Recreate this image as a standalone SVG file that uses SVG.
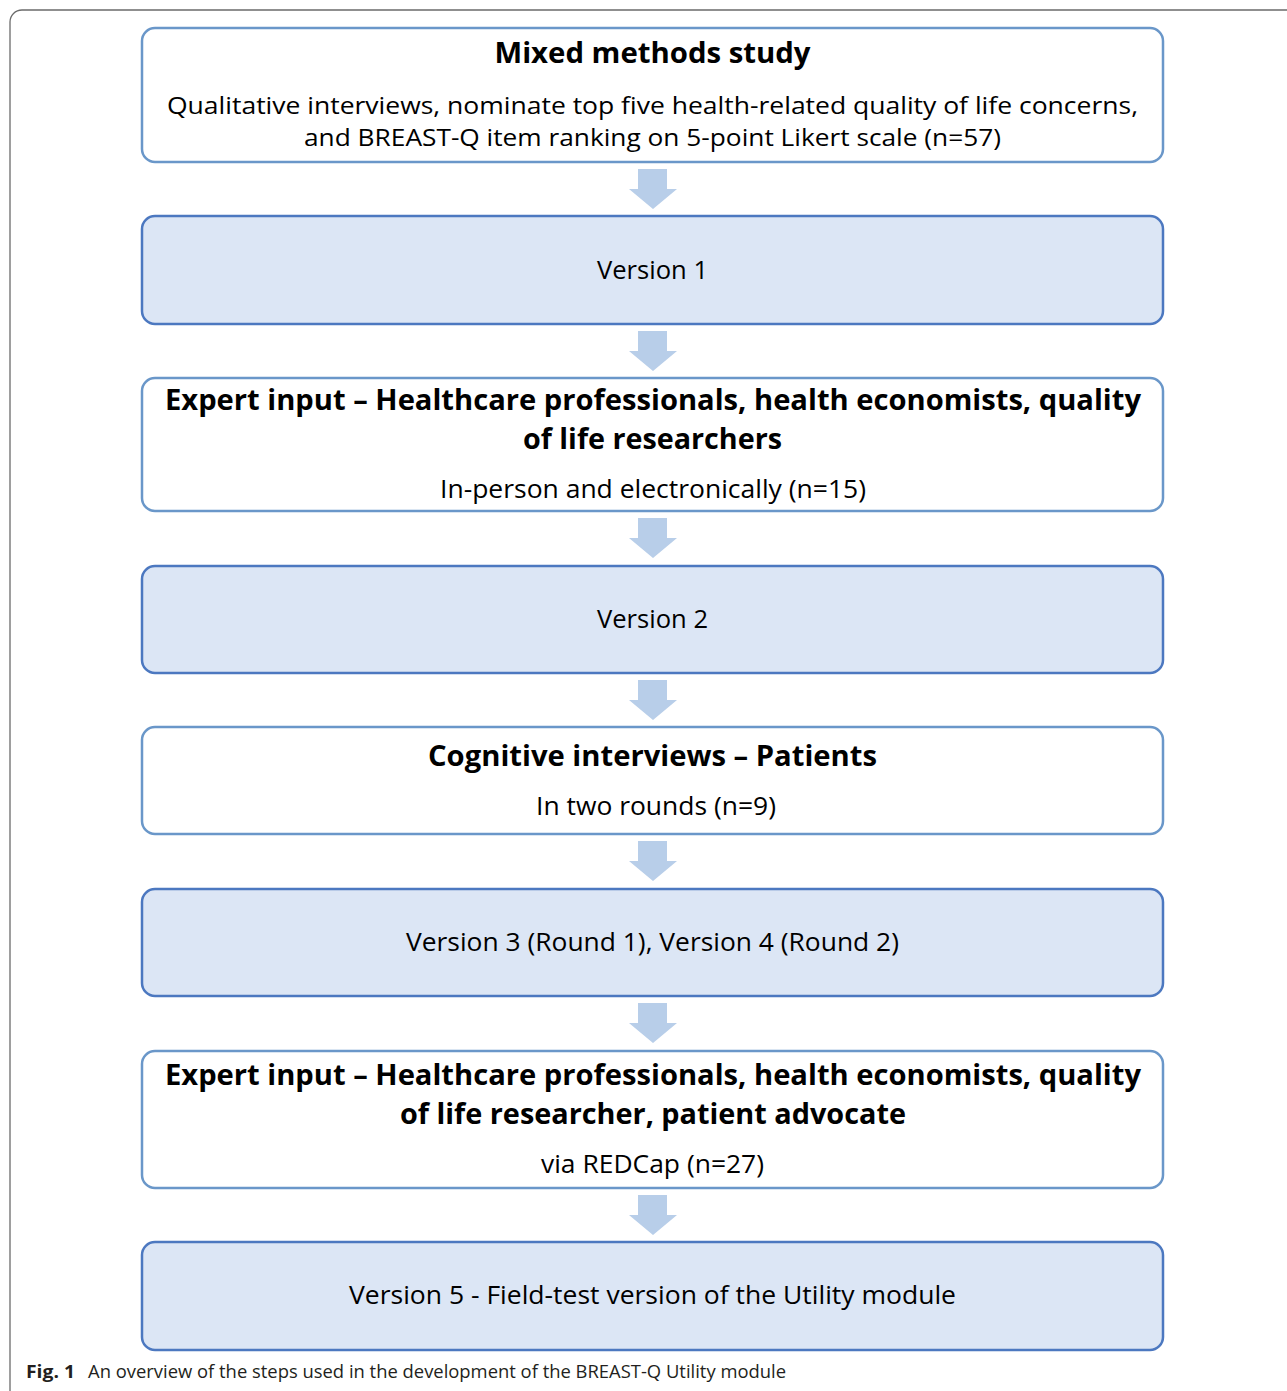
<svg xmlns="http://www.w3.org/2000/svg" width="1287" height="1391" viewBox="0 0 1287 1391">
  <defs>
    <style>
      .frame { fill: none; stroke: #6b6b6b; stroke-width: 1.3; }
      .plain { fill: #ffffff; stroke: #6a97c9; stroke-width: 2.5; }
      .shaded { fill: #dce6f5; stroke: #4c78c0; stroke-width: 2.5; }
      .arrow { fill: #b8cee9; }
      text { font-family: "Open Sans", "Noto Sans", "Liberation Sans", sans-serif; fill: #000000; text-anchor: middle; }
      .title { font-size: 28px; font-weight: bold; }
      .body { font-size: 26px; }
      .tight { font-size: 24px; }
      .cap { font-size: 18px; text-anchor: start; fill: #231f20; }
      .capb { font-weight: bold; }
    </style>
    <!-- block arrow pointing down, drawn at y=0 and placed with <use> -->
    <path id="down" class="arrow" d="M638,0 H667 V20 H677 L653,40 L629,20 H638 Z"/>
  </defs>
  <rect width="1287" height="1391" fill="#ffffff"/>
  <rect class="frame" x="10" y="10" width="1300" height="1400" rx="12"/>

  <g id="connectors">
    <use href="#down" y="169"/>
    <use href="#down" y="331"/>
    <use href="#down" y="518"/>
    <use href="#down" y="680"/>
    <use href="#down" y="841"/>
    <use href="#down" y="1003"/>
    <use href="#down" y="1195"/>
  </g>

  <g id="mixed-methods">
    <rect class="plain" x="142" y="28" width="1021" height="134" rx="13"/>
    <text class="title" x="652.5" y="63" textLength="316" lengthAdjust="spacingAndGlyphs">Mixed methods study</text>
    <text class="body tight" x="652.5" y="114" textLength="971" lengthAdjust="spacingAndGlyphs">Qualitative interviews, nominate top five health-related quality of life concerns,</text>
    <text class="body tight" x="652.5" y="146" textLength="697" lengthAdjust="spacingAndGlyphs">and BREAST-Q item ranking on 5-point Likert scale (n=57)</text>
  </g>

  <g id="version-1">
    <rect class="shaded" x="142" y="216" width="1021" height="108" rx="13"/>
    <text class="body" x="652.5" y="279" textLength="111" lengthAdjust="spacingAndGlyphs">Version 1</text>
  </g>

  <g id="expert-input-1">
    <rect class="plain" x="142" y="378" width="1021" height="133" rx="13"/>
    <text class="title" x="653" y="410" textLength="976" lengthAdjust="spacingAndGlyphs">Expert input – Healthcare professionals, health economists, quality</text>
    <text class="title" x="652.5" y="449" textLength="259" lengthAdjust="spacingAndGlyphs">of life researchers</text>
    <text class="body" x="653" y="498" textLength="426" lengthAdjust="spacingAndGlyphs">In-person and electronically (n=15)</text>
  </g>

  <g id="version-2">
    <rect class="shaded" x="142" y="566" width="1021" height="107" rx="13"/>
    <text class="body" x="652.5" y="628" textLength="111" lengthAdjust="spacingAndGlyphs">Version 2</text>
  </g>

  <g id="cognitive-interviews">
    <rect class="plain" x="142" y="727" width="1021" height="107" rx="13"/>
    <text class="title" x="652.5" y="766" textLength="449" lengthAdjust="spacingAndGlyphs">Cognitive interviews – Patients</text>
    <text class="body" x="656" y="815" textLength="240" lengthAdjust="spacingAndGlyphs">In two rounds (n=9)</text>
  </g>

  <g id="versions-3-4">
    <rect class="shaded" x="142" y="889" width="1021" height="107" rx="13"/>
    <text class="body" x="652.5" y="951" textLength="493" lengthAdjust="spacingAndGlyphs">Version 3 (Round 1), Version 4 (Round 2)</text>
  </g>

  <g id="expert-input-2">
    <rect class="plain" x="142" y="1051" width="1021" height="137" rx="13"/>
    <text class="title" x="653" y="1085" textLength="976" lengthAdjust="spacingAndGlyphs">Expert input – Healthcare professionals, health economists, quality</text>
    <text class="title" x="653" y="1124" textLength="506" lengthAdjust="spacingAndGlyphs">of life researcher, patient advocate</text>
    <text class="body" x="652.5" y="1173" textLength="223" lengthAdjust="spacingAndGlyphs">via REDCap (n=27)</text>
  </g>

  <g id="version-5">
    <rect class="shaded" x="142" y="1242" width="1021" height="108" rx="13"/>
    <text class="body" x="652.5" y="1304" textLength="607" lengthAdjust="spacingAndGlyphs">Version 5 - Field-test version of the Utility module</text>
  </g>

  <g id="caption">
    <text class="cap capb" x="26" y="1378" textLength="49" lengthAdjust="spacingAndGlyphs">Fig. 1</text>
    <text class="cap" x="88" y="1378" textLength="698" lengthAdjust="spacingAndGlyphs">An overview of the steps used in the development of the BREAST-Q Utility module</text>
  </g>
</svg>
